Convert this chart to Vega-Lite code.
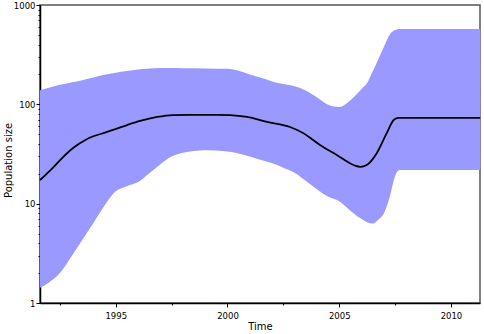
{
  "$schema": "https://vega.github.io/schema/vega-lite/v6.json",
  "width": 440,
  "height": 298,
  "autosize": {"type": "none"},
  "padding": {"left": 40, "top": 5, "right": 4, "bottom": 31},
  "background": "white",
  "view": {"stroke": "#555555", "strokeWidth": 1.5},
  "config": {
    "font": "DejaVu Sans",
    "axis": {"grid": false, "domainColor": "#000000", "domainWidth": 1.5, "tickColor": "#000000", "labelColor": "#000000", "titleColor": "#000000", "labelFont": "DejaVu Sans", "titleFont": "DejaVu Sans", "labelFontSize": 8.5, "titleFontSize": 10, "titleFontWeight": "normal"}
  },
  "datasets": {
    "band": [
      {"year": 1991.61, "lower": 1.42, "upper": 139},
      {"year": 1992, "lower": 1.6, "upper": 147},
      {"year": 1992.5, "lower": 2.0, "upper": 157},
      {"year": 1993, "lower": 2.9, "upper": 166},
      {"year": 1993.5, "lower": 4.3, "upper": 175},
      {"year": 1994, "lower": 6.4, "upper": 186},
      {"year": 1994.5, "lower": 9.6, "upper": 198},
      {"year": 1995, "lower": 13.3, "upper": 208},
      {"year": 1995.5, "lower": 15.0, "upper": 217},
      {"year": 1996, "lower": 16.5, "upper": 224},
      {"year": 1996.5, "lower": 20.2, "upper": 229},
      {"year": 1997, "lower": 25, "upper": 232},
      {"year": 1997.5, "lower": 29.8, "upper": 232},
      {"year": 1998, "lower": 32.5, "upper": 231},
      {"year": 1999, "lower": 34.5, "upper": 230},
      {"year": 2000, "lower": 33.5, "upper": 228},
      {"year": 2000.5, "lower": 32, "upper": 218},
      {"year": 2001, "lower": 29.8, "upper": 200},
      {"year": 2001.5, "lower": 27.5, "upper": 185},
      {"year": 2002, "lower": 25.5, "upper": 170},
      {"year": 2002.5, "lower": 23, "upper": 160},
      {"year": 2003, "lower": 20.5, "upper": 152},
      {"year": 2003.5, "lower": 17, "upper": 138},
      {"year": 2004, "lower": 14, "upper": 118},
      {"year": 2004.5, "lower": 11.8, "upper": 99},
      {"year": 2005, "lower": 10.6, "upper": 94},
      {"year": 2005.5, "lower": 8.5, "upper": 110},
      {"year": 2006, "lower": 7.0, "upper": 143},
      {"year": 2006.25, "lower": 6.5, "upper": 164},
      {"year": 2006.5, "lower": 6.3, "upper": 215},
      {"year": 2006.75, "lower": 6.9, "upper": 285},
      {"year": 2007, "lower": 8.0, "upper": 380},
      {"year": 2007.25, "lower": 11.5, "upper": 500},
      {"year": 2007.5, "lower": 19, "upper": 560},
      {"year": 2007.7, "lower": 21.8, "upper": 573},
      {"year": 2011.31, "lower": 21.8, "upper": 573}
    ],
    "median": [
      {"year": 1991.61, "size": 17.3},
      {"year": 1992.06, "size": 21.5},
      {"year": 1992.51, "size": 27.5},
      {"year": 1993.09, "size": 36.3},
      {"year": 1993.72, "size": 44.8},
      {"year": 1994.61, "size": 52.7},
      {"year": 1995.51, "size": 61.9},
      {"year": 1996.09, "size": 68},
      {"year": 1996.85, "size": 74.6},
      {"year": 1997.56, "size": 78},
      {"year": 1998.33, "size": 78.5},
      {"year": 1999.5, "size": 78.5},
      {"year": 2000.12, "size": 78},
      {"year": 2000.88, "size": 74.6},
      {"year": 2001.77, "size": 66.4},
      {"year": 2002.8, "size": 59.1},
      {"year": 2003.38, "size": 51.4},
      {"year": 2004.14, "size": 39},
      {"year": 2004.89, "size": 30.9},
      {"year": 2005.64, "size": 24.5},
      {"year": 2005.95, "size": 23.5},
      {"year": 2006.23, "size": 24.5},
      {"year": 2006.68, "size": 32.2},
      {"year": 2007.12, "size": 51},
      {"year": 2007.45, "size": 70},
      {"year": 2007.65, "size": 72.9},
      {"year": 2011.31, "size": 72.9}
    ]
  },
  "resolve": {"axis": {"x": "independent", "y": "independent"}},
  "layer": [
    {
      "data": {"name": "band"},
      "mark": {"type": "area", "color": "#9999FF", "opacity": 1, "interpolate": "monotone"},
      "encoding": {
        "x": {"field": "year", "type": "quantitative", "scale": {"domain": [1991.61, 2011.3], "nice": false, "zero": false},
          "axis": {"orient": "bottom", "values": [1995, 2000, 2005, 2010], "format": "d", "tickSize": 4, "labelPadding": 4, "title": "Time", "titlePadding": 2}},
        "y": {"field": "upper", "type": "quantitative", "scale": {"type": "log", "domain": [1, 1000], "nice": false},
          "axis": {"orient": "left", "values": [1, 10, 100, 1000], "format": "d", "tickSize": 4, "labelPadding": 1, "title": "Population size", "titleX": -27, "titleY": 155}},
        "y2": {"field": "lower"}
      }
    },
    {
      "data": {"name": "median"},
      "mark": {"type": "line", "color": "#000000", "strokeWidth": 1.8, "interpolate": "monotone"},
      "encoding": {
        "x": {"field": "year", "type": "quantitative", "scale": {"domain": [1991.61, 2011.3], "nice": false, "zero": false},
          "axis": {"orient": "bottom", "values": [1992.5, 1997.5, 2002.5, 2007.5], "tickSize": 2, "labels": false, "domain": false, "title": null}},
        "y": {"field": "size", "type": "quantitative", "scale": {"type": "log", "domain": [1, 1000], "nice": false},
          "axis": {"orient": "left", "values": [2, 3, 4, 5, 6, 7, 8, 9, 20, 30, 40, 50, 60, 70, 80, 90, 200, 300, 400, 500, 600, 700, 800, 900], "tickSize": 2, "labels": false, "domain": false, "title": null}}
      }
    }
  ]
}
